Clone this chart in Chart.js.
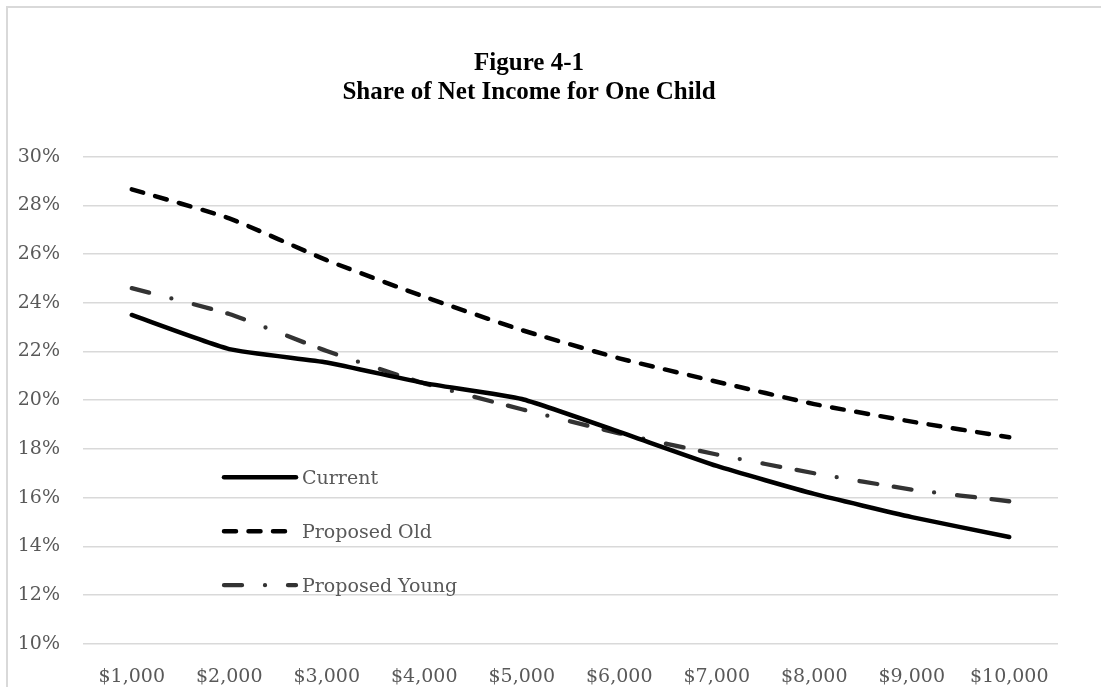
<!DOCTYPE html>
<html>
<head>
<meta charset="utf-8">
<title>Share of Net Income for One Child</title>
<script src="https://cdn.jsdelivr.net/npm/chart.js@4.4.1/dist/chart.umd.min.js"></script>
<style>
  html, body { margin: 0; background: #fff; }
  #wrap { position: relative; width: 1101px; height: 687px; overflow: hidden; }
  /* thin grey frame round the chart object */
  #frame {
    position: absolute; left: 6px; top: 6px; width: 1200px; height: 800px;
    border-left: 2px solid #d9d9d9; border-top: 2px solid #d9d9d9;
  }
  #chart { position: absolute; left: 0; top: 0; }
</style>
</head>
<body>
<div id="wrap">
  <div id="frame"></div>
  <canvas id="chart" width="1160" height="687"></canvas>
</div>
<script>
// monthly net income levels
const incomeLabels = ['$1,000', '$2,000', '$3,000', '$4,000', '$5,000', '$6,000', '$7,000', '$8,000', '$9,000', '$10,000'];

// share of net income for one child (%)
const currentShare = [23.5, 22.1, 21.55, 20.7, 20.05, 18.7, 17.3, 16.15, 15.2, 14.38];
const proposedOldShare = [28.66, 27.47, 25.75, 24.25, 22.88, 21.72, 20.76, 19.84, 19.12, 18.48];
const proposedYoungShare = [24.6, 23.54, 22.02, 20.69, 19.63, 18.64, 17.77, 17.0, 16.33, 15.85];

const titleLines = ['Figure 4-1', 'Share of Net Income for One Child'];
const yMin = 10, yMax = 30, yStep = 2;

const labelFont = { family: "'DejaVu Serif', serif", size: 19 };
const labelColor = '#595959';

// legend drawn inside the plot, lower left
const insideLegend = {
  id: 'insideLegend',
  afterDatasetsDraw(chart) {
    const { ctx, chartArea } = chart;
    const x0 = chartArea.left + 141;
    const sampleLen = 72;
    chart.data.datasets.forEach((ds, i) => {
      const y = chartArea.top + 320.5 + i * 54;
      ctx.save();
      ctx.strokeStyle = ds.borderColor;
      ctx.lineWidth = ds.borderWidth;
      ctx.lineCap = 'round';
      ctx.setLineDash(ds.borderDash || []);
      ctx.lineDashOffset = ds.borderDashOffset || 0;
      ctx.beginPath();
      ctx.moveTo(x0, y);
      ctx.lineTo(x0 + sampleLen, y);
      ctx.stroke();
      ctx.setLineDash([]);
      ctx.fillStyle = labelColor;
      ctx.font = `${labelFont.size}px ${labelFont.family}`;
      ctx.textBaseline = 'middle';
      ctx.textAlign = 'left';
      ctx.fillText(ds.label, x0 + sampleLen + 6, y + 2);
      ctx.restore();
    });
  }
};

new Chart(document.getElementById('chart').getContext('2d'), {
  type: 'line',
  data: {
    labels: incomeLabels,
    datasets: [
      {
        label: 'Current',
        data: currentShare,
        borderColor: '#000000',
        borderWidth: 4.5,
        borderCapStyle: 'round',
        borderJoinStyle: 'round',
        tension: 0.15
      },
      {
        label: 'Proposed Old',
        data: proposedOldShare,
        borderColor: '#000000',
        borderWidth: 4.5,
        borderDash: [12, 12.5],
        borderCapStyle: 'round',
        borderJoinStyle: 'round',
        tension: 0.15
      },
      {
        label: 'Proposed Young',
        data: proposedYoungShare,
        borderColor: '#333333',
        borderWidth: 4.3,
        borderDash: [18, 16.6, 18, 23, 0, 23],
        borderDashOffset: 34.6,
        borderCapStyle: 'round',
        borderJoinStyle: 'round',
        tension: 0.15
      }
    ]
  },
  options: {
    responsive: false,
    animation: false,
    events: [],
    layout: { padding: { left: 0, right: 102, top: 0, bottom: 0 } },
    elements: { point: { radius: 0 } },
    plugins: {
      legend: { display: false },
      tooltip: { enabled: false },
      title: {
        display: true,
        text: titleLines,
        color: '#000000',
        font: { family: "'Liberation Serif', 'Times New Roman', serif", size: 25, weight: 'bold', lineHeight: 1.18 },
        padding: { top: 48.5, bottom: 49.2 }
      }
    },
    scales: {
      x: {
        offset: true,
        border: { display: false },
        grid: { display: false, drawTicks: false },
        ticks: { color: labelColor, font: labelFont, padding: 22, maxRotation: 0, autoSkip: false },
        afterFit(scale) { scale.height = 43.3; }
      },
      y: {
        min: yMin,
        max: yMax,
        border: { display: false },
        grid: { color: '#d9d9d9', lineWidth: 1.5, drawTicks: false },
        ticks: {
          stepSize: yStep,
          color: labelColor,
          font: labelFont,
          padding: 23,
          callback: v => v + '%'
        },
        afterFit(scale) { scale.width = 83; }
      }
    }
  },
  plugins: [insideLegend]
});
</script>
</body>
</html>
